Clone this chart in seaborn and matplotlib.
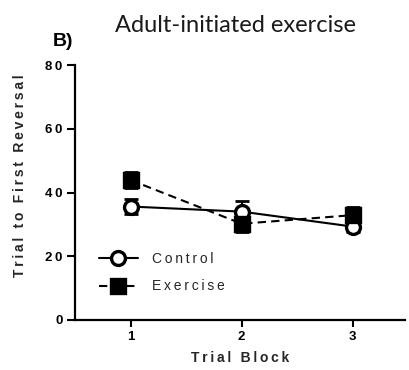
import matplotlib
matplotlib.use("Agg")
import matplotlib.pyplot as plt
import seaborn as sns
import pandas as pd

# ---- data ----
blocks = [1, 2, 3]
groups = ["Control", "Exercise"]
control_mean = [35.6, 34.0, 29.3]
control_sem = [2.4, 3.4, 1.8]
exercise_mean = [43.9, 30.2, 32.9]
exercise_sem = [2.5, 2.5, 2.4]
y_ticks = [0, 20, 40, 60, 80]
x_ticks = [1, 2, 3]

sns.set_theme(style="ticks")
plt.rcParams['font.family'] = ['Liberation Sans', 'DejaVu Sans']

def spaced(s, sep="\u200a"):
    return sep.join(s)

df = pd.DataFrame({
    "block": blocks * 2,
    "value": control_mean + exercise_mean,
    "group": [groups[0]] * 3 + [groups[1]] * 3,
})

fig = plt.figure(figsize=(4.09, 3.70), dpi=100)
ax = fig.add_axes([75 / 409, 50 / 370, 330 / 409, 255 / 370])

# error bars
for m, e in [(control_mean, control_sem), (exercise_mean, exercise_sem)]:
    ax.errorbar(blocks, m, yerr=e, fmt="none", ecolor="black",
                elinewidth=1.5, capsize=5, capthick=2, zorder=2)

n_before = len(ax.lines)
sns.lineplot(data=df, x="block", y="value", style="group",
             style_order=groups,
             markers={"Control": "o", "Exercise": "s"},
             dashes={"Control": "", "Exercise": (4, 2.5)},
             color="black", linewidth=1.5, markersize=10,
             markeredgewidth=2.4, markeredgecolor="black",
             ax=ax, zorder=3, legend=False)

lines = ax.lines[n_before:]
lines[0].set_markerfacecolor("white")
lines[1].set_markerfacecolor("black")

leg = ax.legend(lines[:2], [spaced(g, "\u2009") for g in groups],
                loc="upper left", bbox_to_anchor=(0.035, 0.315),
                frameon=False, handlelength=2.8, handletextpad=1.0,
                labelspacing=0.95, prop={"size": 10})

ax.set_xlim(0.5, 3.47)
ax.set_ylim(0, 80)
ax.set_xticks(x_ticks)
ax.set_xticklabels([spaced(str(t)) for t in x_ticks], fontweight="bold", fontsize=9.5)
ax.set_yticks(y_ticks)
ax.set_yticklabels([spaced(str(t), "\u2009") for t in y_ticks], fontweight="bold", fontsize=9.5)

ax.set_xlabel(spaced("Trial Block", "\u2009"), fontweight="bold", fontsize=10, labelpad=6)
ax.set_ylabel(spaced("Trial to First Reversal", "\u2009"), fontweight="bold", fontsize=10)
ax.yaxis.set_label_coords(-0.145, 0.565)

for s in ["top", "right"]:
    ax.spines[s].set_visible(False)
for s in ["left", "bottom"]:
    ax.spines[s].set_linewidth(1.6)
    ax.spines[s].set_color("black")
ax.tick_params(axis="both", colors="black", width=1.5, length=5, pad=3)
ax.tick_params(axis="y", length=6)

fig.text(235 / 409, 1 - 25 / 370, "Adult-initiated exercise", family="Lato",
         fontsize=17, ha="center", va="center", color="#1a1a1a")
fig.text(63 / 409, 1 - 42 / 370, "B)", fontweight="bold", fontsize=14,
         ha="center", va="center", color="black")

fig.savefig("out.png", dpi=100)
